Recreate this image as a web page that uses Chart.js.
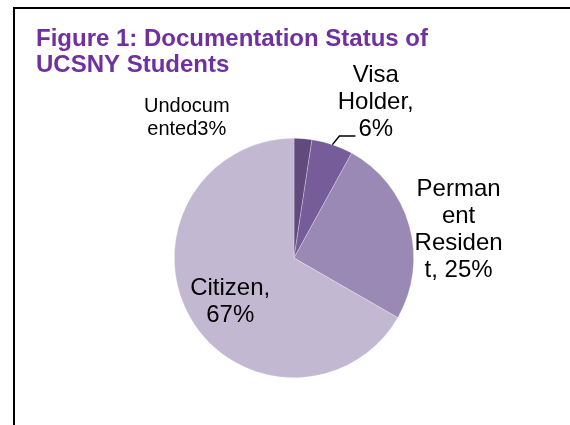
<!DOCTYPE html>
<html>
<head>
<meta charset="utf-8">
<script src="https://cdn.jsdelivr.net/npm/chart.js@4"></script>
<style>
  html, body { margin: 0; padding: 0; background: #fff; }
  canvas { display: block; }
</style>
</head>
<body>
<canvas id="c" width="570" height="425"></canvas>
<script>
// ---- data ----
const titleLines = ["Figure 1: Documentation Status of", "UCSNY Students"];
const categories = ["Undocumented", "Visa Holder", "Permanent Resident", "Citizen"];
const shares = [2.4, 5.6, 25.3, 66.7];
const pctLabels = ["3%", "6%", "25%", "67%"];
const labelLines = [
  ["Undocum", "ented3%"],
  ["Visa", "Holder,", "6%"],
  ["Perman", "ent", "Residen", "t, 25%"],
  ["Citizen,", "67%"]
];
const sliceColors = ["#614B7E", "#765D99", "#9A89B4", "#C3B8D1"];

// ---- label placement (relative to pie centre, in radius units) ----
const labelStyle = [
  { dx: -0.896, dy: -1.18, size: 20, lh: 23 },
  { dx: 0.683, dy: -1.316, size: 24, lh: 27 },
  { dx: 1.375, dy: -0.253, size: 24, lh: 27 },
  { dx: -0.533, dy: 0.353, size: 24, lh: 27 }
];
const leaderFor = 1;

const decor = {
  id: 'decor',
  afterDraw(chart) {
    const ctx = chart.ctx;
    ctx.save();
    // frame
    ctx.strokeStyle = '#000';
    ctx.lineWidth = 2;
    ctx.strokeRect(14, 8, 800, 800);
    // title
    ctx.fillStyle = '#7030A0';
    ctx.font = 'bold 24px "Liberation Sans", Arial, sans-serif';
    ctx.textAlign = 'left';
    ctx.textBaseline = 'alphabetic';
    ctx.fillText(titleLines[0], 36, 46);
    ctx.fillText(titleLines[1], 36, 72);

    // data labels
    const meta = chart.getDatasetMeta(0);
    meta.data.forEach((arc, i) => {
      const st = labelStyle[i];
      const r = arc.outerRadius;
      const cx = arc.x + st.dx * r;
      const cy = arc.y + st.dy * r;
      const lines = labelLines[i];
      const n = lines.length;
      ctx.font = st.size + 'px "Liberation Sans", Arial, sans-serif';
      ctx.fillStyle = '#000';
      ctx.textAlign = 'center';
      ctx.textBaseline = 'alphabetic';
      const cap = 0.716 * st.size;
      lines.forEach((t, k) => {
        const by = cy + (k - (n - 1) / 2) * st.lh + cap / 2;
        ctx.fillText(t, cx, by);
      });
      if (i === leaderFor) {
        const mid = (arc.startAngle + arc.endAngle) / 2;
        const sx = arc.x + r * Math.cos(mid);
        const sy = arc.y + r * Math.sin(mid);
        const lastW = ctx.measureText(lines[n - 1]).width;
        const by = cy + ((n - 1) / 2) * st.lh + cap / 2;
        const tx = cx - lastW / 2 - 3;
        ctx.strokeStyle = '#000';
        ctx.lineWidth = 1.5;
        ctx.beginPath();
        ctx.moveTo(sx, sy);
        ctx.lineTo(sx + 7, by);
        ctx.lineTo(tx, by);
        ctx.stroke();
      }
    });
    ctx.restore();
  }
};

new Chart(document.getElementById('c'), {
  type: 'pie',
  data: {
    labels: categories,
    datasets: [{
      data: shares,
      backgroundColor: sliceColors,
      borderColor: 'rgba(255,255,255,0.45)',
      borderWidth: 0.6
    }]
  },
  options: {
    responsive: false,
    animation: false,
    layout: { padding: { left: 174, right: 156, top: 138, bottom: 47 } },
    plugins: {
      legend: { display: false },
      tooltip: { enabled: false },
      title: { display: false }
    }
  },
  plugins: [decor]
});
</script>
</body>
</html>
